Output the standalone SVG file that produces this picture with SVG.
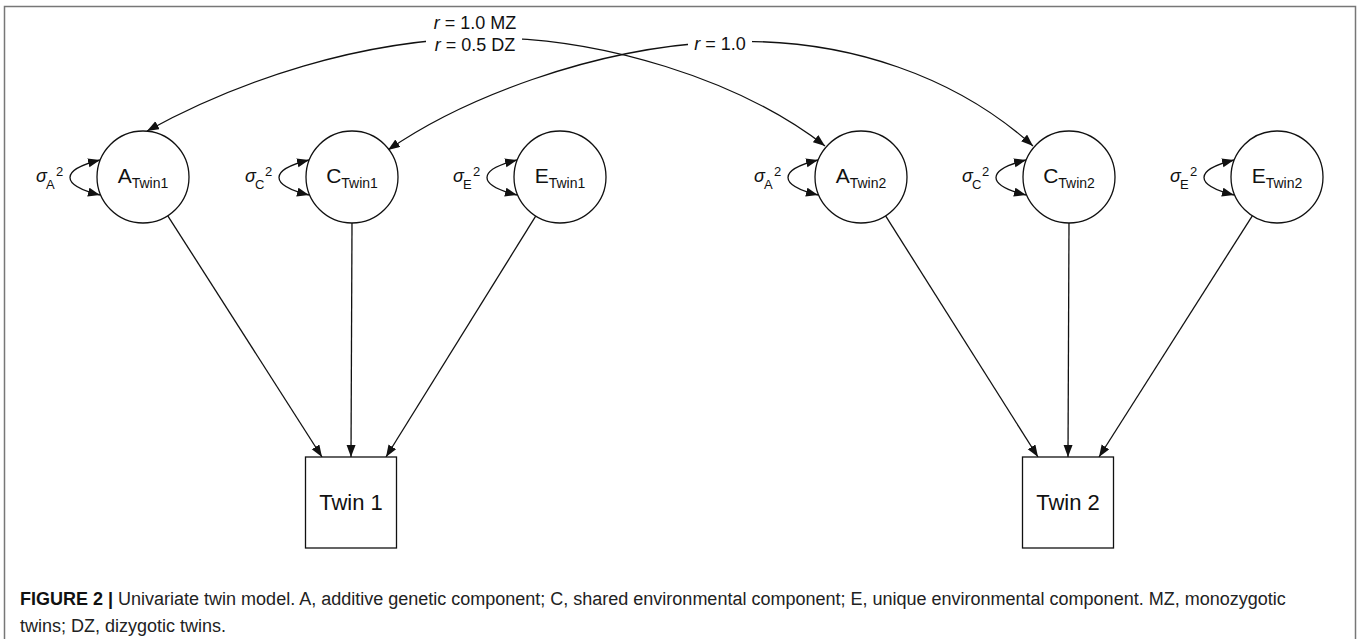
<svg xmlns="http://www.w3.org/2000/svg" width="1360" height="639" viewBox="0 0 1360 639">
<style>
  text { font-family: "Liberation Sans", Arial, sans-serif; fill: #111; }
  .node { fill: #fff; stroke: #111; stroke-width: 1.3; }
  .edge { fill: none; stroke: #111; stroke-width: 1.3; }
  .arr { marker-end: url(#ah); }
  .dbl { marker-start: url(#ah); marker-end: url(#ah); }
  .lbl { font-size: 21px; }
  .sub { font-size: 14px; }
  .var { font-size: 18px; font-style: italic; }
  .vs { font-size: 13px; }
  .corr { font-size: 18px; }
  .cap { font-size: 18px; fill: #222; }
</style>
<defs>
  <marker id="ah" markerUnits="userSpaceOnUse" markerWidth="13" markerHeight="10" refX="12" refY="4.5" orient="auto-start-reverse" viewBox="0 0 13 10">
    <path d="M0,0 L12,4.5 L0,9 z" fill="#111"/>
  </marker>
</defs>
<rect x="4.5" y="6.5" width="1351" height="650" fill="none" stroke="#777" stroke-width="1.5"/>

<g id="connectors">
  <path class="edge dbl" d="M147,131 C240,80 360,40 480,38 C600,36 740,80 825,146"/>
  <path class="edge dbl" d="M388,150 C460,100 590,48 720,42 C850,36 960,80 1033,146"/>
  <path class="edge arr" d="M167.8,215.8 L322,457"/>
  <path class="edge arr" d="M352,223 L351,457"/>
  <path class="edge arr" d="M535.7,216.1 L386,457"/>
  <path class="edge arr" d="M885.6,215.9 L1038,457"/>
  <path class="edge arr" d="M1069,223 L1068,457"/>
  <path class="edge arr" d="M1252.3,215.8 L1099,457"/>
  <path class="edge dbl" d="M100,160 C60,170 60,185 100,195"/>
  <path class="edge dbl" d="M309,160 C269,170 269,185 309,195"/>
  <path class="edge dbl" d="M517,160 C477,170 477,185 517,195"/>
  <path class="edge dbl" d="M818,160 C778,170 778,185 818,195"/>
  <path class="edge dbl" d="M1026,160 C986,170 986,185 1026,195"/>
  <path class="edge dbl" d="M1234,160 C1194,170 1194,185 1234,195"/>
</g>

<g id="label-corrA">
  <rect x="426" y="12" width="96" height="46" fill="#fff"/>
  <text class="corr" x="475" y="29" text-anchor="middle"><tspan font-style="italic">r</tspan> = 1.0 MZ</text>
  <text class="corr" x="475" y="51" text-anchor="middle"><tspan font-style="italic">r</tspan> = 0.5 DZ</text>
</g>
<g id="label-corrC">
  <rect x="688" y="33" width="64" height="22" fill="#fff"/>
  <text class="corr" x="720" y="50" text-anchor="middle"><tspan font-style="italic">r</tspan> = 1.0</text>
</g>

<g id="A_Twin1">
  <circle class="node" cx="143" cy="177" r="46"/>
  <text class="lbl" x="143" y="183" text-anchor="middle">A<tspan class="sub" dy="5">Twin1</tspan></text>
  <text class="var" x="36" y="182">σ</text><text class="vs" x="46" y="189">A</text><text class="vs" x="56" y="176">2</text>
</g>
<g id="C_Twin1">
  <circle class="node" cx="352" cy="177" r="46"/>
  <text class="lbl" x="352" y="183" text-anchor="middle">C<tspan class="sub" dy="5">Twin1</tspan></text>
  <text class="var" x="245" y="182">σ</text><text class="vs" x="255" y="189">C</text><text class="vs" x="265" y="176">2</text>
</g>
<g id="E_Twin1">
  <circle class="node" cx="560" cy="177" r="46"/>
  <text class="lbl" x="560" y="183" text-anchor="middle">E<tspan class="sub" dy="5">Twin1</tspan></text>
  <text class="var" x="453" y="182">σ</text><text class="vs" x="463" y="189">E</text><text class="vs" x="473" y="176">2</text>
</g>
<g id="A_Twin2">
  <circle class="node" cx="861" cy="177" r="46"/>
  <text class="lbl" x="861" y="183" text-anchor="middle">A<tspan class="sub" dy="5">Twin2</tspan></text>
  <text class="var" x="754" y="182">σ</text><text class="vs" x="764" y="189">A</text><text class="vs" x="774" y="176">2</text>
</g>
<g id="C_Twin2">
  <circle class="node" cx="1069" cy="177" r="46"/>
  <text class="lbl" x="1069" y="183" text-anchor="middle">C<tspan class="sub" dy="5">Twin2</tspan></text>
  <text class="var" x="962" y="182">σ</text><text class="vs" x="972" y="189">C</text><text class="vs" x="982" y="176">2</text>
</g>
<g id="E_Twin2">
  <circle class="node" cx="1277" cy="177" r="46"/>
  <text class="lbl" x="1277" y="183" text-anchor="middle">E<tspan class="sub" dy="5">Twin2</tspan></text>
  <text class="var" x="1170" y="182">σ</text><text class="vs" x="1180" y="189">E</text><text class="vs" x="1190" y="176">2</text>
</g>

<g id="Twin1">
  <rect class="node" x="305.5" y="457" width="91" height="91"/>
  <text x="351" y="510" font-size="22" text-anchor="middle">Twin 1</text>
</g>
<g id="Twin2">
  <rect class="node" x="1022.5" y="457" width="91" height="91"/>
  <text x="1068" y="510" font-size="22" text-anchor="middle">Twin 2</text>
</g>

<g id="caption">
  <text class="cap" x="20" y="605"><tspan font-weight="bold" fill="#111">FIGURE 2 |</tspan> Univariate twin model. A, additive genetic component; C, shared environmental component; E, unique environmental component. MZ, monozygotic</text>
  <text class="cap" x="20" y="632">twins; DZ, dizygotic twins.</text>
</g>
</svg>
